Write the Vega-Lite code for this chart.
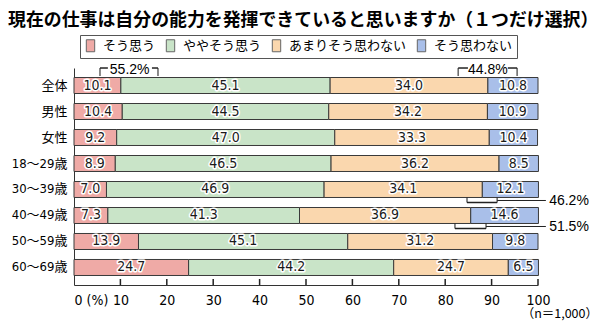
{
  "$schema": "https://vega.github.io/schema/vega-lite/v6.json",
  "autosize": {"type": "none"},
  "padding": {"left": 74, "top": 68, "right": 62, "bottom": 37},
  "width": 464,
  "height": 217,
  "background": "white",
  "config": {"view": {"stroke": null}},
  "title": {
    "text": "現在の仕事は自分の能力を発揮できていると思いますか（１つだけ選択）",
    "anchor": "start",
    "frame": "group",
    "font": "Noto Sans CJK JP",
    "fontSize": 17.9,
    "fontWeight": "bold",
    "color": "#000",
    "dx": -66,
    "offset": 5
  },
  "datasets": {
    "main": [
      {"group": "全体", "answer": "そう思う", "value": 10.1, "o": 1},
      {"group": "全体", "answer": "ややそう思う", "value": 45.1, "o": 2},
      {"group": "全体", "answer": "あまりそう思わない", "value": 34.0, "o": 3},
      {"group": "全体", "answer": "そう思わない", "value": 10.8, "o": 4},
      {"group": "男性", "answer": "そう思う", "value": 10.4, "o": 1},
      {"group": "男性", "answer": "ややそう思う", "value": 44.5, "o": 2},
      {"group": "男性", "answer": "あまりそう思わない", "value": 34.2, "o": 3},
      {"group": "男性", "answer": "そう思わない", "value": 10.9, "o": 4},
      {"group": "女性", "answer": "そう思う", "value": 9.2, "o": 1},
      {"group": "女性", "answer": "ややそう思う", "value": 47.0, "o": 2},
      {"group": "女性", "answer": "あまりそう思わない", "value": 33.3, "o": 3},
      {"group": "女性", "answer": "そう思わない", "value": 10.4, "o": 4},
      {"group": "18～29歳", "answer": "そう思う", "value": 8.9, "o": 1},
      {"group": "18～29歳", "answer": "ややそう思う", "value": 46.5, "o": 2},
      {"group": "18～29歳", "answer": "あまりそう思わない", "value": 36.2, "o": 3},
      {"group": "18～29歳", "answer": "そう思わない", "value": 8.5, "o": 4},
      {"group": "30～39歳", "answer": "そう思う", "value": 7.0, "o": 1},
      {"group": "30～39歳", "answer": "ややそう思う", "value": 46.9, "o": 2},
      {"group": "30～39歳", "answer": "あまりそう思わない", "value": 34.1, "o": 3},
      {"group": "30～39歳", "answer": "そう思わない", "value": 12.1, "o": 4},
      {"group": "40～49歳", "answer": "そう思う", "value": 7.3, "o": 1},
      {"group": "40～49歳", "answer": "ややそう思う", "value": 41.3, "o": 2},
      {"group": "40～49歳", "answer": "あまりそう思わない", "value": 36.9, "o": 3},
      {"group": "40～49歳", "answer": "そう思わない", "value": 14.6, "o": 4},
      {"group": "50～59歳", "answer": "そう思う", "value": 13.9, "o": 1},
      {"group": "50～59歳", "answer": "ややそう思う", "value": 45.1, "o": 2},
      {"group": "50～59歳", "answer": "あまりそう思わない", "value": 31.2, "o": 3},
      {"group": "50～59歳", "answer": "そう思わない", "value": 9.8, "o": 4},
      {"group": "60～69歳", "answer": "そう思う", "value": 24.7, "o": 1},
      {"group": "60～69歳", "answer": "ややそう思う", "value": 44.2, "o": 2},
      {"group": "60～69歳", "answer": "あまりそう思わない", "value": 24.7, "o": 3},
      {"group": "60～69歳", "answer": "そう思わない", "value": 6.5, "o": 4}
    ],
    "segs": [
      {"group": "全体", "pos": "top", "x1": 5.6, "x2": 7.3},
      {"group": "全体", "pos": "top", "x1": 16.8, "x2": 18.1},
      {"group": "全体", "pos": "top", "x1": 82.8, "x2": 84.9},
      {"group": "全体", "pos": "top", "x1": 93.5, "x2": 95.5},
      {"group": "30～39歳", "pos": "bottom", "x1": 84.7, "x2": 91.2},
      {"group": "40～49歳", "pos": "bottom", "x1": 82.1, "x2": 88.8},
      {"group": "30～39歳", "pos": "conn", "x1": 91.2, "x2": 101.7},
      {"group": "40～49歳", "pos": "conn", "x1": 88.8, "x2": 101.7}
    ],
    "ticks": [
      {"group": "全体", "pos": "top", "x1": 5.6},
      {"group": "全体", "pos": "top", "x1": 18.1},
      {"group": "全体", "pos": "top", "x1": 82.8},
      {"group": "全体", "pos": "top", "x1": 95.5},
      {"group": "30～39歳", "pos": "bottom", "x1": 84.7},
      {"group": "30～39歳", "pos": "bottom", "x1": 91.2},
      {"group": "40～49歳", "pos": "bottom", "x1": 82.1},
      {"group": "40～49歳", "pos": "bottom", "x1": 88.8},
      {"group": "60～69歳", "pos": "axis", "x1": 10},
      {"group": "60～69歳", "pos": "axis", "x1": 20},
      {"group": "60～69歳", "pos": "axis", "x1": 30},
      {"group": "60～69歳", "pos": "axis", "x1": 40},
      {"group": "60～69歳", "pos": "axis", "x1": 50},
      {"group": "60～69歳", "pos": "axis", "x1": 60},
      {"group": "60～69歳", "pos": "axis", "x1": 70},
      {"group": "60～69歳", "pos": "axis", "x1": 80},
      {"group": "60～69歳", "pos": "axis", "x1": 90},
      {"group": "60～69歳", "pos": "axis", "x1": 100}
    ],
    "labels": [
      {"group": "全体", "pos": "top", "x1": 12.0, "label": "55.2%"},
      {"group": "全体", "pos": "top", "x1": 89.2, "label": "44.8%"},
      {"group": "30～39歳", "pos": "side", "x1": 102.4, "label": "46.2%"},
      {"group": "40～49歳", "pos": "side", "x1": 102.4, "label": "51.5%"}
    ],
    "note": [
      {"group": "60～69歳", "x1": 100, "label": "（n＝1,000）"}
    ]
  },
  "encoding": {
    "y": {
      "field": "group",
      "type": "nominal",
      "title": null,
      "scale": {
        "domain": ["全体", "男性", "女性", "18～29歳", "30～39歳", "40～49歳", "50～59歳", "60～69歳"],
        "paddingInner": 0.385,
        "paddingOuter": 0.366
      },
      "axis": {
        "ticks": false,
        "domain": true,
        "domainColor": "#333",
        "domainWidth": 1,
        "labelFont": "Liberation Sans Narrow, DejaVu Sans Condensed, Noto Sans CJK JP",
        "labelFontSize": 13,
        "labelColor": "#000",
        "labelPadding": 7
      }
    }
  },
  "layer": [
    {
      "data": {"name": "main"},
      "mark": {"type": "bar", "stroke": "#3a3a3a", "strokeWidth": 1},
      "encoding": {
        "x": {
          "field": "value",
          "type": "quantitative",
          "stack": "zero",
          "title": null,
          "scale": {"domain": [0, 100], "nice": false},
          "axis": {
            "values": [0, 10, 20, 30, 40, 50, 60, 70, 80, 90, 100],
            "grid": false,
            "labelOverlap": false,
            "labelBound": false,
            "labelFlush": false,
            "domainColor": "#333",
            "ticks": false,
            "labelPadding": 8,
            "labelFont": "Liberation Sans Narrow, DejaVu Sans Condensed, Noto Sans CJK JP",
            "labelFontSize": 14,
            "labelColor": "#000",
            "labelExpr": "datum.value == 0 ? '0 (%)' : datum.label",
            "labelAlign": {"condition": {"test": "datum.value == 0", "value": "left"}, "value": "center"}
          }
        },
        "color": {
          "field": "answer",
          "type": "nominal",
          "scale": {
            "domain": ["そう思う", "ややそう思う", "あまりそう思わない", "そう思わない"],
            "range": ["#efaaa6", "#c9e4c8", "#fad7ae", "#a9bfe9"]
          },
          "legend": {
            "title": null,
            "orient": "none",
            "direction": "horizontal",
            "legendX": 6,
            "legendY": -33,
            "padding": 4,
            "strokeColor": "#555",
            "fillColor": "white",
            "symbolType": "M-0.7,-1H0.7V1H-0.7Z",
            "symbolSize": 144,
            "symbolStrokeColor": "#666",
            "symbolStrokeWidth": 1,
            "symbolOpacity": 1,
            "labelFont": "Noto Sans CJK JP",
            "labelFontSize": 13,
            "labelColor": "#000",
            "labelOffset": 6,
            "columnPadding": 8
          }
        },
        "order": {"field": "o"}
      }
    },
    {
      "data": {"name": "main"},
      "mark": {"type": "text", "font": "Liberation Sans Narrow, DejaVu Sans Condensed, Noto Sans CJK JP", "fontSize": 14, "stroke": "white", "strokeWidth": 3, "strokeJoin": "round", "fill": "white"},
      "encoding": {
        "x": {"field": "value", "type": "quantitative", "stack": "zero", "bandPosition": 0.5, "title": null, "scale": {"domain": [0, 100], "nice": false}},
        "detail": {"field": "answer"},
        "order": {"field": "o"},
        "text": {"field": "value", "type": "quantitative", "format": ".1f"}
      }
    },
    {
      "data": {"name": "main"},
      "mark": {"type": "text", "font": "Liberation Sans Narrow, DejaVu Sans Condensed, Noto Sans CJK JP", "fontSize": 14, "fill": "#1a1a1a"},
      "encoding": {
        "x": {"field": "value", "type": "quantitative", "stack": "zero", "bandPosition": 0.5, "title": null, "scale": {"domain": [0, 100], "nice": false}},
        "detail": {"field": "answer"},
        "order": {"field": "o"},
        "text": {"field": "value", "type": "quantitative", "format": ".1f"}
      }
    },
    {
      "data": {"name": "segs"},
      "transform": [{"filter": "datum.pos == 'top'"}],
      "mark": {"type": "rule", "color": "#222", "strokeWidth": 1.5, "yOffset": -17.5, "clip": false},
      "encoding": {
        "x": {"field": "x1", "type": "quantitative", "title": null, "scale": {"domain": [0, 100], "nice": false}},
        "x2": {"field": "x2"}
      }
    },
    {
      "data": {"name": "segs"},
      "transform": [{"filter": "datum.pos == 'bottom'"}],
      "mark": {"type": "rule", "color": "#222", "strokeWidth": 1.5, "yOffset": 13, "clip": false},
      "encoding": {
        "x": {"field": "x1", "type": "quantitative", "title": null, "scale": {"domain": [0, 100], "nice": false}},
        "x2": {"field": "x2"}
      }
    },
    {
      "data": {"name": "segs"},
      "transform": [{"filter": "datum.pos == 'conn'"}],
      "mark": {"type": "rule", "color": "#222", "strokeWidth": 1, "yOffset": 11, "clip": false},
      "encoding": {
        "x": {"field": "x1", "type": "quantitative", "title": null, "scale": {"domain": [0, 100], "nice": false}},
        "x2": {"field": "x2"}
      }
    },
    {
      "data": {"name": "ticks"},
      "transform": [{"filter": "datum.pos == 'top'"}],
      "mark": {"type": "tick", "color": "#222", "thickness": 1.5, "size": 8, "yOffset": -13.5, "orient": "vertical"},
      "encoding": {
        "x": {"field": "x1", "type": "quantitative", "title": null, "scale": {"domain": [0, 100], "nice": false}}
      }
    },
    {
      "data": {"name": "ticks"},
      "transform": [{"filter": "datum.pos == 'bottom'"}],
      "mark": {"type": "tick", "color": "#222", "thickness": 1.5, "size": 5, "yOffset": 10.5, "orient": "vertical"},
      "encoding": {
        "x": {"field": "x1", "type": "quantitative", "title": null, "scale": {"domain": [0, 100], "nice": false}}
      }
    },
    {
      "data": {"name": "ticks"},
      "transform": [{"filter": "datum.pos == 'axis'"}],
      "mark": {"type": "tick", "color": "#222", "opacity": 1, "thickness": 1.5, "size": 6, "yOffset": 14.5, "orient": "vertical"},
      "encoding": {
        "x": {"field": "x1", "type": "quantitative", "title": null, "scale": {"domain": [0, 100], "nice": false}}
      }
    },
    {
      "data": {"name": "labels"},
      "transform": [{"filter": "datum.pos == 'top'"}],
      "mark": {"type": "text", "font": "Liberation Sans, Noto Sans CJK JP", "fontSize": 14, "color": "#000", "dy": -16, "baseline": "middle"},
      "encoding": {
        "x": {"field": "x1", "type": "quantitative", "title": null, "scale": {"domain": [0, 100], "nice": false}},
        "text": {"field": "label"}
      }
    },
    {
      "data": {"name": "labels"},
      "transform": [{"filter": "datum.pos == 'side'"}],
      "mark": {"type": "text", "font": "Liberation Sans, Noto Sans CJK JP", "fontSize": 14, "color": "#000", "dy": 12, "align": "left", "baseline": "middle"},
      "encoding": {
        "x": {"field": "x1", "type": "quantitative", "title": null, "scale": {"domain": [0, 100], "nice": false}},
        "text": {"field": "label"}
      }
    },
    {
      "data": {"name": "note"},
      "mark": {"type": "text", "font": "Noto Sans CJK JP", "fontSize": 12.5, "color": "#000", "dx": 60, "dy": 47, "align": "right", "baseline": "middle"},
      "encoding": {
        "x": {"field": "x1", "type": "quantitative", "title": null, "scale": {"domain": [0, 100], "nice": false}},
        "text": {"field": "label"}
      }
    }
  ]
}
